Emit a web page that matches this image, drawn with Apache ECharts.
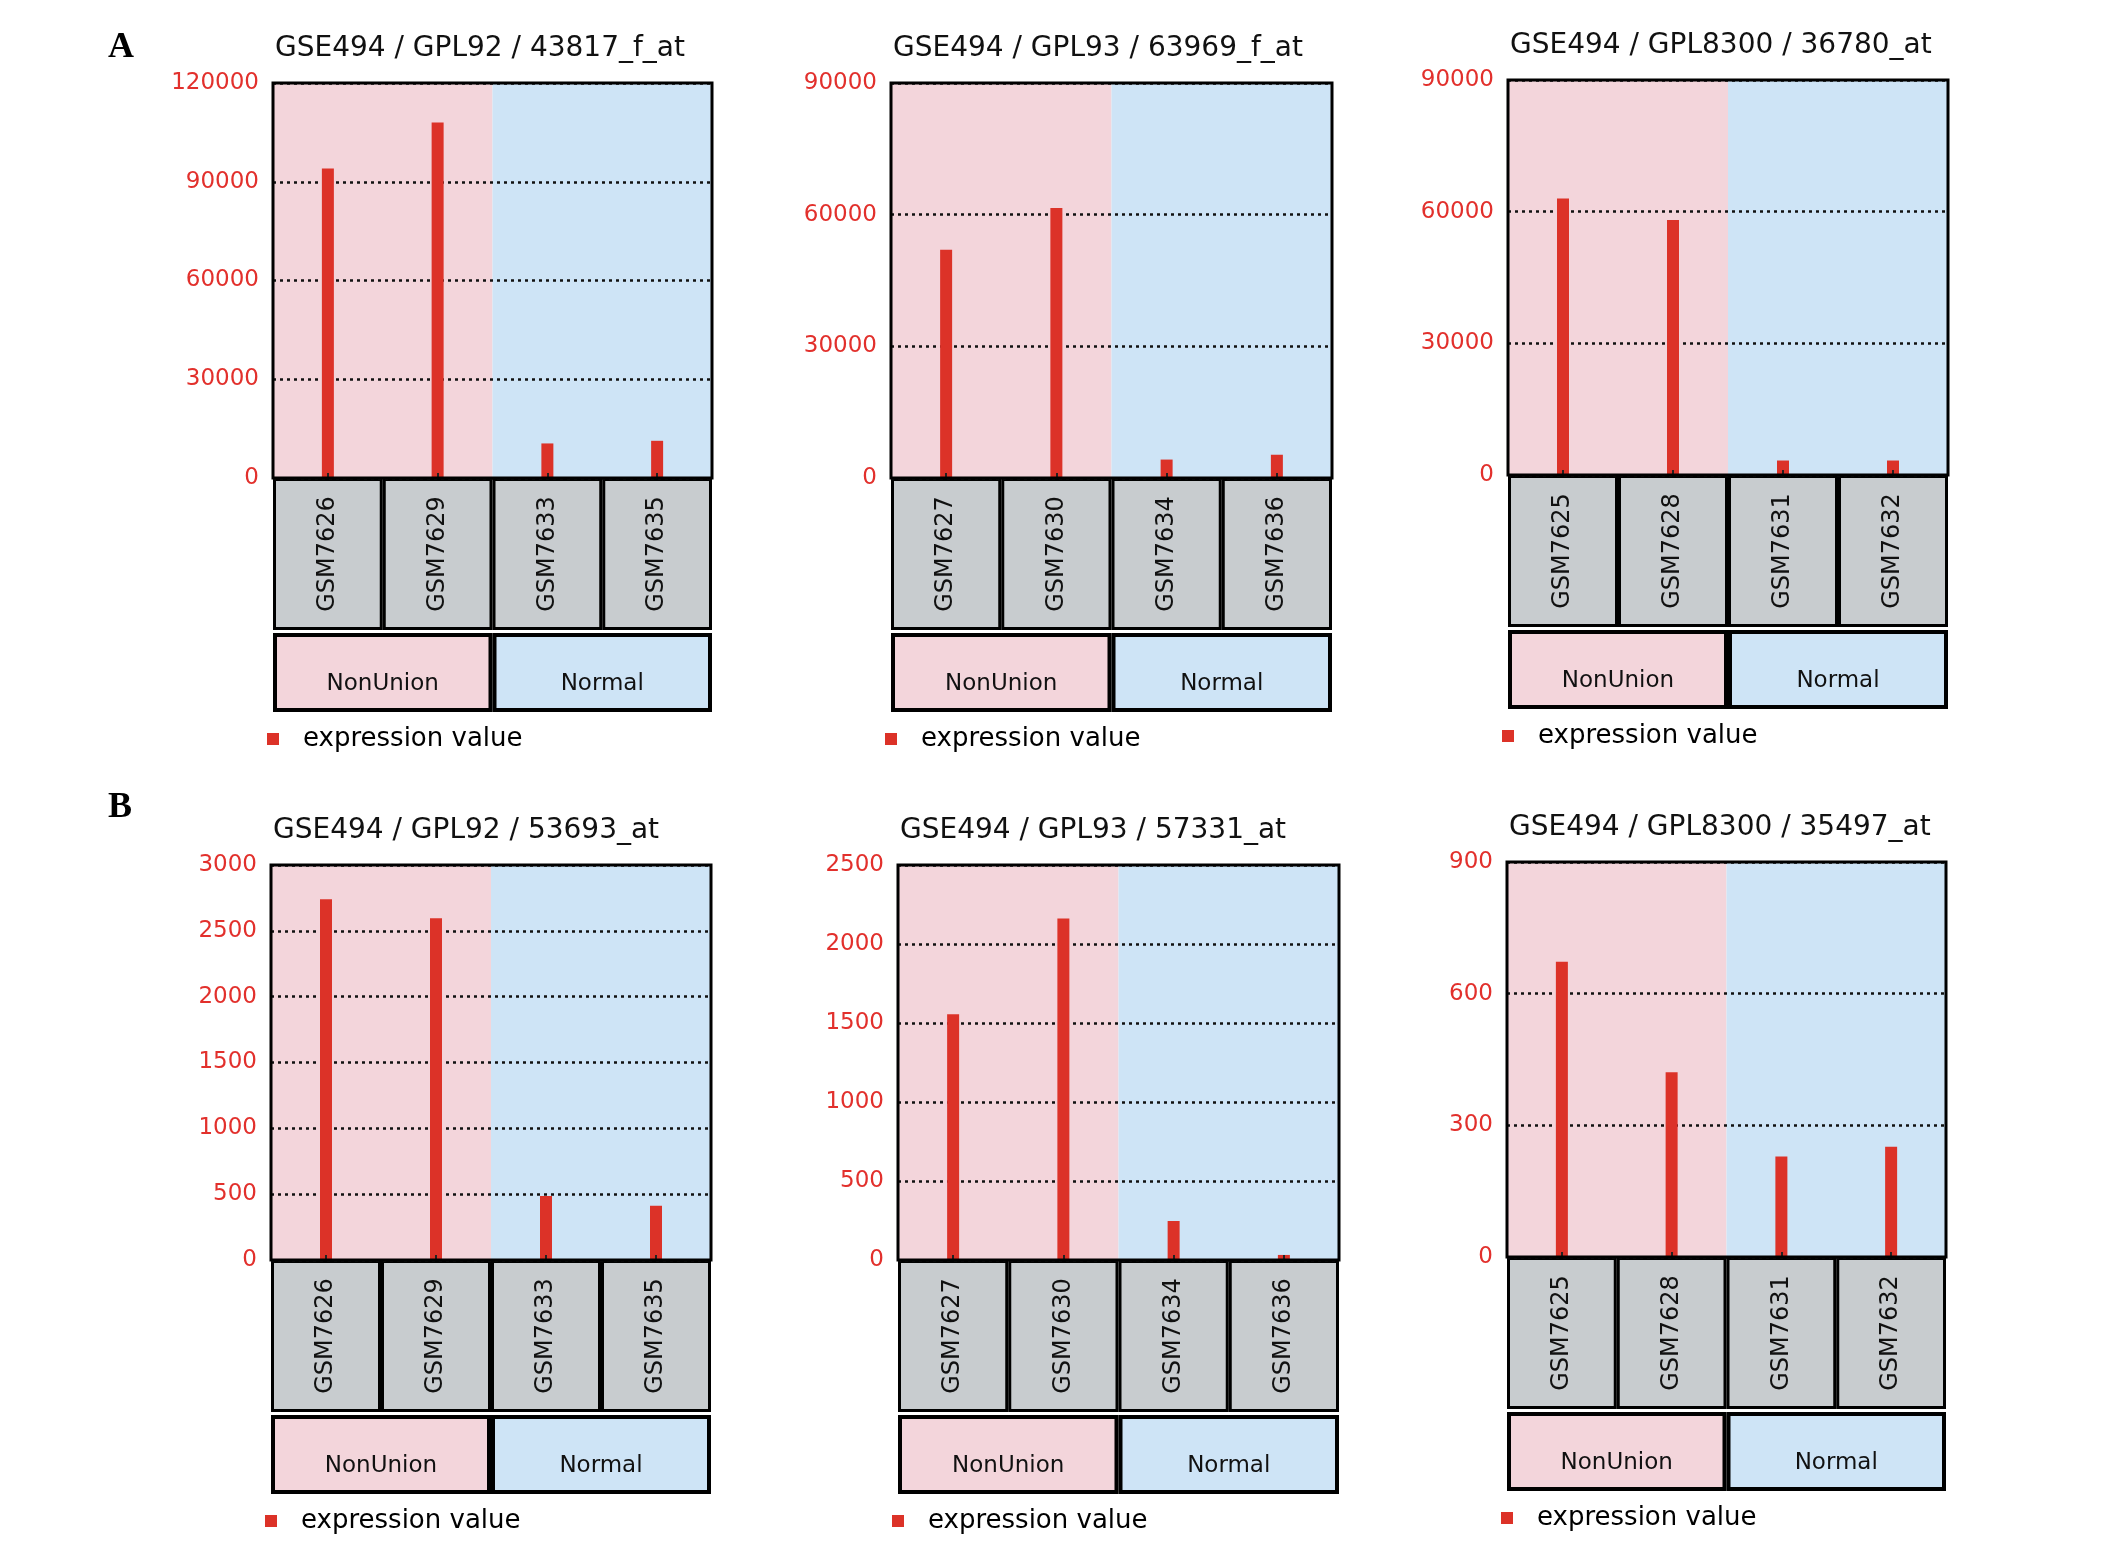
<!DOCTYPE html>
<html>
<head>
<meta charset="utf-8">
<script src="https://cdn.jsdelivr.net/npm/echarts@6/dist/echarts.min.js"></script>
<style>
html,body{margin:0;padding:0;background:#fff;}
#c{width:2126px;height:1548px;}
</style>
</head>
<body>
<div id="c"></div>
<script>
// ---------- data ----------
const panelLetters = ['A', 'B'];
const titles = [
  'GSE494 / GPL92 / 43817_f_at',
  'GSE494 / GPL93 / 63969_f_at',
  'GSE494 / GPL8300 / 36780_at',
  'GSE494 / GPL92 / 53693_at',
  'GSE494 / GPL93 / 57331_at',
  'GSE494 / GPL8300 / 35497_at'
];
const samplesGPL92 = ['GSM7626', 'GSM7629', 'GSM7633', 'GSM7635'];
const samplesGPL93 = ['GSM7627', 'GSM7630', 'GSM7634', 'GSM7636'];
const samplesGPL8300 = ['GSM7625', 'GSM7628', 'GSM7631', 'GSM7632'];
const groups = ['NonUnion', 'Normal'];
const seriesName = 'expression value';

const values43817 = [94000, 108000, 10500, 11300];
const values63969 = [52000, 61500, 4200, 5300];
const values36780 = [63000, 58100, 3300, 3300];
const values53693 = [2740, 2595, 486, 412];
const values57331 = [1555, 2162, 247, 32];
const values35497 = [673, 421, 229, 251];

const yMax = [120000, 90000, 90000, 3000, 2500, 900];
const yInterval = [30000, 30000, 30000, 500, 500, 300];

const panelSamples = [samplesGPL92, samplesGPL93, samplesGPL8300, samplesGPL92, samplesGPL93, samplesGPL8300];
const panelValues = [values43817, values63969, values36780, values53693, values57331, values35497];

// ---------- layout / style ----------
const layout = [
  {x: 273, w: 439, top: 83, h: 395},
  {x: 891, w: 441, top: 83, h: 395},
  {x: 1508, w: 440, top: 80, h: 395},
  {x: 271, w: 440, top: 865, h: 395},
  {x: 898, w: 441, top: 865, h: 395},
  {x: 1507, w: 439, top: 862, h: 395}
];
const letterPos = [{left: 108, top: 30}, {left: 108, top: 790}];
const FONT = 'DejaVu Sans';
const groupColor = {NonUnion: '#f3d5db', Normal: '#cee4f6'};
const RED = '#dc3228';

const option = {
  backgroundColor: '#ffffff',
  animation: false,
  title: [], grid: [], xAxis: [], yAxis: [], series: [], legend: []
};

panelLetters.forEach((t, i) => {
  option.title.push({
    text: t, left: letterPos[i].left, top: letterPos[i].top, padding: 0,
    textStyle: {fontFamily: 'Liberation Serif', fontWeight: 'bold', fontSize: 36, color: '#000'}
  });
});

titles.forEach((title, i) => {
  const L = layout[i];
  const samples = panelSamples[i];
  const g = option.grid.length;
  const xa = option.xAxis.length;
  const ya = option.yAxis.length;

  option.title.push({
    text: title, left: L.x + 2, top: L.top - 48, padding: 0,
    textStyle: {fontFamily: FONT, fontWeight: 'normal', fontSize: 28, color: '#111'}
  });

  // plot grid
  option.grid.push({left: L.x, top: L.top, width: L.w, height: L.h, show: true, z: 10,
    backgroundColor: 'transparent', borderColor: '#000', borderWidth: 3});
  // sample strip
  option.grid.push({left: L.x, top: L.top + L.h, width: L.w, height: 152});
  // group strip
  option.grid.push({left: L.x, top: L.top + L.h + 155, width: L.w, height: 79});

  // axes for plot
  option.xAxis.push({
    type: 'category', gridIndex: g, data: samples, z: 6,
    axisLabel: {show: false}, axisLine: {show: false},
    axisTick: {show: true, inside: true, alignWithLabel: true, length: 5, lineStyle: {color: '#222', width: 2}},
    splitLine: {show: false}
  });
  option.xAxis.push({type: 'category', gridIndex: g, position: 'top', data: groups, show: false});
  option.yAxis.push({
    type: 'value', gridIndex: g, min: 0, max: yMax[i], interval: yInterval[i], z: 4,
    axisLine: {show: false}, axisTick: {show: false},
    axisLabel: {color: '#e2302c', fontSize: 23, fontFamily: FONT, margin: 14, formatter: v => String(v)},
    splitLine: {show: true, lineStyle: {color: '#111', type: [3, 4], width: 2.5}}
  });
  // sample strip axes
  option.xAxis.push({type: 'category', gridIndex: g + 1, data: samples, show: false});
  option.yAxis.push({type: 'value', gridIndex: g + 1, min: 0, max: 1, show: false});
  // group strip axes
  option.xAxis.push({type: 'category', gridIndex: g + 2, data: groups, show: false});
  option.yAxis.push({type: 'value', gridIndex: g + 2, min: 0, max: 1, show: false});

  // background bands by group
  option.series.push({
    type: 'bar', name: 'bg', xAxisIndex: xa + 1, yAxisIndex: ya, silent: true, z: 1,
    barCategoryGap: '0%',
    data: groups.map(gn => ({value: yMax[i], itemStyle: {color: groupColor[gn]}}))
  });
  // expression values
  option.series.push({
    type: 'bar', name: seriesName, xAxisIndex: xa, yAxisIndex: ya, z: 5,
    barWidth: 12, itemStyle: {color: RED}, data: panelValues[i]
  });
  // sample boxes
  option.series.push({
    type: 'bar', name: 'samples', xAxisIndex: xa + 2, yAxisIndex: ya + 1, silent: true,
    barCategoryGap: '0%',
    itemStyle: {color: '#c8cccf', borderColor: '#000', borderWidth: 3},
    label: {show: true, position: 'inside', rotate: 90, formatter: '{b}', fontSize: 24, fontFamily: FONT, color: '#111'},
    data: samples.map(() => 1)
  });
  // group boxes
  option.series.push({
    type: 'bar', name: 'groups', xAxisIndex: xa + 3, yAxisIndex: ya + 2, silent: true,
    barCategoryGap: '0%',
    label: {show: true, position: 'inside', offset: [0, 12], formatter: '{b}', fontSize: 23, fontFamily: FONT, color: '#111'},
    data: groups.map(gn => ({value: 1, itemStyle: {color: groupColor[gn], borderColor: '#000', borderWidth: 4}}))
  });

  option.legend.push({
    data: [seriesName], left: L.x - 6, top: L.top + L.h + 248, padding: 0,
    icon: 'rect', itemWidth: 12, itemHeight: 12, selectedMode: false,
    textStyle: {fontSize: 26, fontFamily: FONT, color: '#000', padding: [0, 0, 0, 19]}
  });
});

const chart = echarts.init(document.getElementById('c'), null, {renderer: 'canvas'});
chart.setOption(option);
</script>
</body>
</html>
